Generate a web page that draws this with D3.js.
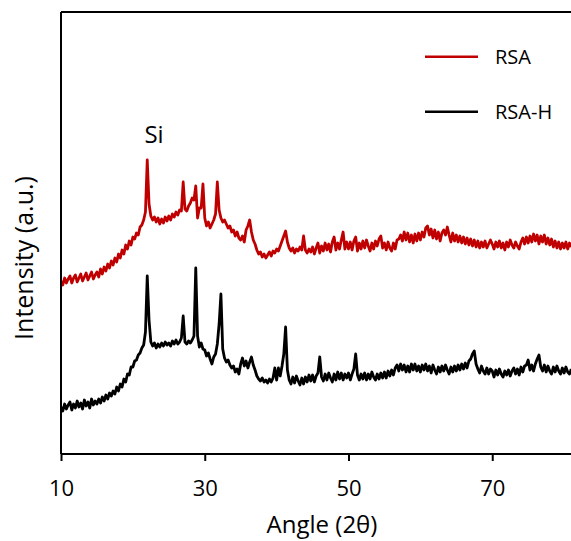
<!DOCTYPE html>
<html><head><meta charset="utf-8">
<script src="https://cdn.jsdelivr.net/npm/d3@7"></script>
<style>
body{margin:0;background:#fff;}
svg{display:block;font-family:"Open Sans",sans-serif;}
</style></head>
<body><svg id="c" width="571" height="541"></svg>
<script>
// Angle grid (2θ), 10 to 81 deg in 0.25 deg steps
const angleStart = 10, angleStep = 0.25;
const xTicks = [10, 30, 50, 70];
const seriesNames = ["RSA", "RSA-H"];

// RSA intensity (a.u.)
const rsa = [
173,169,176,171,175,178,171,176,179,172,176,180,173,177,181,174,178,182,175,179,
182,177,185,180,187,183,190,186,193,189,196,192,200,196,204,200,209,205,213,209,
217,215,221,219,227,229,234,242,294,250,238,234,237,232,236,230,235,231,237,233,
238,234,240,237,242,239,244,243,272,245,243,248,251,256,254,268,236,246,246,270,
236,228,232,226,230,234,240,272,244,236,232,234,230,226,228,222,224,218,222,216,
214,218,212,224,228,234,222,214,210,204,200,202,197,200,196,199,202,198,203,201,
205,203,208,213,218,223,212,206,203,206,201,205,203,207,204,218,204,201,205,202,
207,200,206,211,201,208,203,211,204,210,202,212,217,204,211,205,214,222,205,212,
205,212,204,213,217,203,211,205,213,206,214,208,203,211,205,213,208,215,218,206,
211,204,212,206,203,211,205,214,215,219,213,222,214,221,212,219,211,220,213,221,
214,222,217,226,228,219,225,216,224,215,222,213,221,224,219,227,219,212,221,213,
219,212,218,211,217,210,216,209,215,208,214,207,213,206,212,207,213,206,210,214,
210,205,212,207,213,206,211,204,212,207,214,209,206,212,208,205,212,216,210,217,
211,218,212,220,213,219,210,218,212,219,210,216,209,215,207,213,206,212,205,211,
206,212,205,211,207
];

// RSA-H intensity (a.u.)
const rsaH = [
47,43,50,45,49,52,44,50,46,53,47,51,45,54,48,52,46,55,49,53,
50,55,51,57,53,59,55,61,58,63,60,67,63,70,67,75,72,80,79,87,
87,93,94,99,101,106,109,122,178,134,112,108,111,106,110,107,111,108,112,109,
111,108,113,110,114,110,112,116,138,112,110,113,111,114,118,186,118,107,111,105,
104,98,101,95,90,97,100,110,130,160,105,96,92,94,89,86,88,82,85,80,
90,96,88,93,86,92,97,89,84,78,75,73,76,72,74,71,75,72,76,86,
74,86,78,88,100,127,84,74,70,77,71,78,73,69,76,70,77,72,79,73,
79,72,78,81,97,77,73,80,74,81,76,72,80,74,82,75,81,74,80,76,
81,74,80,85,100,79,74,80,75,81,74,80,75,82,77,74,80,75,81,76,
82,76,83,78,84,79,86,89,83,90,84,89,82,88,82,90,84,90,83,88,
82,89,84,90,83,88,81,89,84,80,87,82,88,83,89,84,80,87,82,88,
83,89,84,90,85,91,86,93,95,100,103,90,85,81,88,83,80,86,80,85,
83,77,84,79,85,80,77,83,79,84,78,83,86,80,85,79,87,82,88,89,
94,84,89,83,90,95,99,87,83,89,82,88,83,80,87,82,88,83,80,86,
81,87,82,80,85
];

const svg = d3.select("#c");
const L = 61, R = 571.3, T = 12, B = 454;
const x = d3.scaleLinear().domain([10, 81]).range([L, R]);
const y = d3.scaleLinear().domain([0, 442]).range([B, T]);

const toPts = arr => arr.map((v, i) => [angleStart + i * angleStep, v]);
const line = d3.line().x(d => x(d[0])).y(d => y(d[1]));

svg.append("clipPath").attr("id", "clip").append("rect")
  .attr("x", L).attr("y", T).attr("width", R - L).attr("height", B - T);

const plot = svg.append("g").attr("clip-path", "url(#clip)");
plot.append("path").datum(toPts(rsaH)).attr("d", line)
  .attr("fill", "none").attr("stroke", "#000").attr("stroke-width", 2.8).attr("stroke-linejoin", "round");
plot.append("path").datum(toPts(rsa)).attr("d", line)
  .attr("fill", "none").attr("stroke", "#C00000").attr("stroke-width", 2.8).attr("stroke-linejoin", "round");

// frame: top line and left axis
svg.append("line").attr("x1", L).attr("x2", 571).attr("y1", T).attr("y2", T)
  .attr("stroke", "#000").attr("stroke-width", 2);
svg.append("line").attr("x1", L).attr("x2", L).attr("y1", T).attr("y2", B)
  .attr("stroke", "#000").attr("stroke-width", 2);

// x axis
const xa = svg.append("g").attr("transform", `translate(0,${B})`)
  .call(d3.axisBottom(x).tickValues(xTicks).tickSize(7).tickSizeOuter(0).tickPadding(19));
xa.select(".domain").attr("stroke-width", 2).attr("d", `M${L},0H571`);
xa.selectAll(".tick line").attr("stroke-width", 2);
xa.selectAll(".tick text").attr("font-size", 22).attr("font-family", "Open Sans").attr("fill", "#000");

// axis titles
svg.append("text").attr("x", 322).attr("y", 533).attr("text-anchor", "middle")
  .attr("font-size", 24).attr("fill", "#000").text("Angle (2θ)");
svg.append("text").attr("transform", "translate(33,258) rotate(-90)").attr("text-anchor", "middle")
  .attr("font-size", 25).attr("fill", "#000").text("Intensity (a.u.)");

// Si annotation
svg.append("text").attr("x", 154).attr("y", 143).attr("text-anchor", "middle")
  .attr("font-size", 24).attr("fill", "#000").text("Si");

// legend
const legColors = ["#C00000", "#000"];
const legY = [56.7, 111.7];
seriesNames.forEach((n, i) => {
  svg.append("line").attr("x1", 425).attr("x2", 478).attr("y1", legY[i]).attr("y2", legY[i])
    .attr("stroke", legColors[i]).attr("stroke-width", 2.6);
  svg.append("text").attr("x", 495).attr("y", legY[i] + 7.5).attr("font-size", 20)
    .attr("fill", "#000").text(n);
});
</script></body></html>
